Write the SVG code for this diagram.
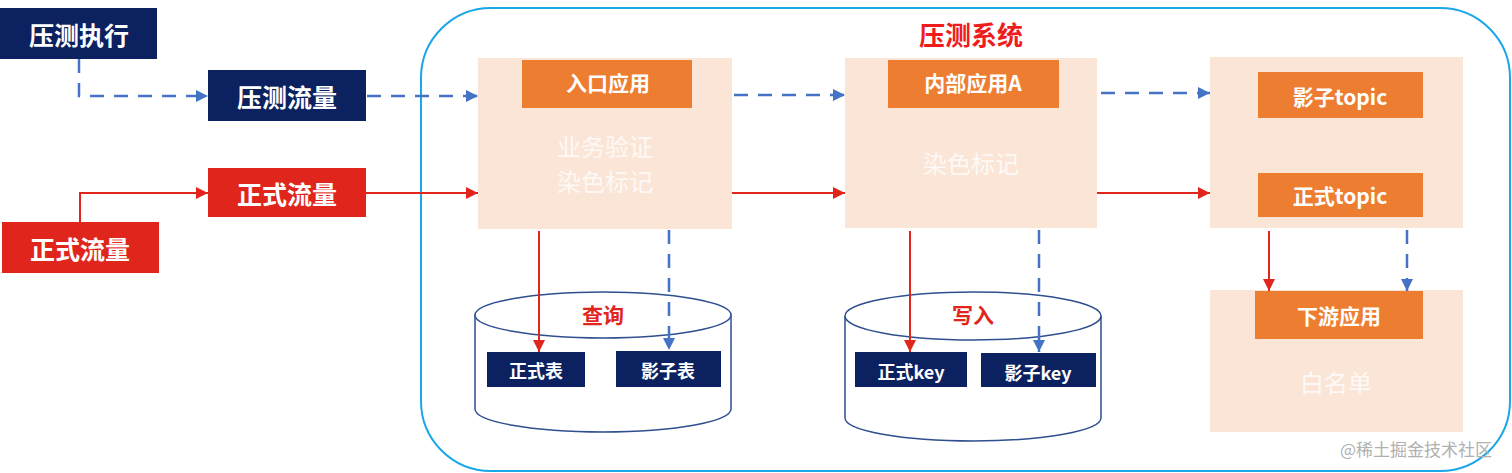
<svg xmlns="http://www.w3.org/2000/svg" width="1512" height="473" viewBox="0 0 1512 473">
<defs>
<style>
text{font-family:"Noto Sans CJK SC","Noto Sans",sans-serif;text-anchor:middle;dominant-baseline:central}
.navy{fill:#0b2160}
.red{fill:#e0261c}
.peach{fill:#fbe5d6}
.orange{fill:#ed7d31}
.wt{fill:#ffffff;font-weight:bold}
.big{font-size:25px}
.mid{font-size:21px}
.sm{font-size:18px}
.faint{fill:#ffffff;font-size:24px;opacity:0.8}
.cyl{fill:#ffffff;stroke:#2f4f8f;stroke-width:1.5}
.bl{stroke:#4472c4;stroke-width:2.5;fill:none;stroke-dasharray:14 10}
.rl{stroke:#e0261c;stroke-width:2;fill:none}
</style>
<marker id="ab" viewBox="0 0 10 10" refX="10" refY="5" markerWidth="5" markerHeight="5" orient="auto" markerUnits="strokeWidth"><path d="M0,0 L10,5 L0,10 z" fill="#4472c4"/></marker>
<marker id="ar" viewBox="0 0 10 10" refX="10" refY="5" markerWidth="6" markerHeight="6" orient="auto" markerUnits="strokeWidth"><path d="M0,0 L10,5 L0,10 z" fill="#e0261c"/></marker>
</defs>
<rect width="1512" height="473" fill="#ffffff"/>
<g id="system">
<rect x="421" y="8" width="1089" height="463" rx="70" ry="70" fill="none" stroke="#1aa7e8" stroke-width="2"/>
<text x="971" y="33" font-size="26" font-weight="bold" fill="#ee1c1c">压测系统</text>
</g>
<g id="exec"><rect class="navy" x="0" y="8" width="157" height="51"/><text class="wt big" x="79" y="34">压测执行</text></g>
<g id="pressflow"><rect class="navy" x="208" y="70" width="158" height="51"/><text class="wt big" x="287" y="96">压测流量</text></g>
<g id="realflow"><rect class="red" x="208" y="168" width="158" height="49"/><text class="wt big" x="287" y="193">正式流量</text></g>
<g id="realsrc"><rect class="red" x="2" y="222" width="157" height="51"/><text class="wt big" x="80" y="248">正式流量</text></g>
<g id="entry">
<rect class="peach" x="478" y="58" width="254" height="171"/>
<rect class="orange" x="522" y="60" width="170" height="48"/>
<text class="wt mid" x="608" y="82">入口应用</text>
<text class="faint" x="605" y="145">业务验证</text>
<text class="faint" x="605" y="180">染色标记</text>
</g>
<g id="inner">
<rect class="peach" x="845" y="58" width="252" height="170"/>
<rect class="orange" x="888" y="60" width="171" height="48"/>
<text class="wt mid" x="973" y="82">内部应用A</text>
<text class="faint" x="971" y="162">染色标记</text>
</g>
<g id="topics">
<rect class="peach" x="1210" y="57" width="253" height="171"/>
<rect class="orange" x="1258" y="72" width="165" height="46"/>
<text class="wt mid" x="1340" y="96">影子topic</text>
<rect class="orange" x="1258" y="173" width="165" height="44"/>
<text class="wt mid" x="1340" y="195">正式topic</text>
</g>
<g id="downstream">
<rect class="peach" x="1210" y="290" width="253" height="142"/>
<rect class="orange" x="1255" y="291" width="168" height="48"/>
<text class="wt mid" x="1339" y="315">下游应用</text>
<text class="faint" x="1336" y="381">白名单</text>
</g>
<g id="db1">
<path class="cyl" d="M475,315 L475,409 A128,23 0 0 0 731,409 L731,315"/>
<ellipse class="cyl" cx="603" cy="315" rx="128" ry="23"/>
<text x="603" y="314" font-size="21" font-weight="bold" fill="#e0261c">查询</text>
<rect class="navy" x="487" y="352" width="98" height="35"/>
<text class="wt sm" x="536" y="370">正式表</text>
<rect class="navy" x="616" y="351" width="105" height="36"/>
<text class="wt sm" x="668" y="370">影子表</text>
</g>
<g id="db2">
<path class="cyl" d="M845,316 L845,418 A128,23 0 0 0 1101,418 L1101,316"/>
<ellipse class="cyl" cx="973" cy="316" rx="128" ry="24"/>
<text x="973" y="314" font-size="21" font-weight="bold" fill="#e0261c">写入</text>
<rect class="navy" x="855" y="352" width="112" height="35"/>
<text class="wt sm" x="911" y="371">正式key</text>
<rect class="navy" x="981" y="353" width="115" height="34"/>
<text class="wt sm" x="1038" y="372">影子key</text>
</g>
<g id="connectors">
<path class="bl" d="M79,59 L79,96 L208,96" marker-end="url(#ab)"/>
<path class="bl" d="M367,96 L478,96" marker-end="url(#ab)"/>
<path class="rl" d="M80,222 L80,193 L208,193" marker-end="url(#ar)"/>
<path class="rl" d="M366,193 L478,193" marker-end="url(#ar)"/>
<path class="bl" d="M734,95 L845,95" marker-end="url(#ab)"/>
<path class="rl" d="M732,193 L845,193" marker-end="url(#ar)"/>
<path class="bl" d="M1101,93 L1210,93" marker-end="url(#ab)"/>
<path class="rl" d="M1097,193 L1210,193" marker-end="url(#ar)"/>
<path class="rl" d="M539,231 L539,352" marker-end="url(#ar)"/>
<path class="bl" d="M669,230 L669,350" marker-end="url(#ab)"/>
<path class="rl" d="M910,231 L910,352" marker-end="url(#ar)"/>
<path class="bl" d="M1039,230 L1039,352" marker-end="url(#ab)"/>
<path class="rl" d="M1269,231 L1269,291" marker-end="url(#ar)"/>
<path class="bl" d="M1407,230 L1407,291" marker-end="url(#ab)"/>
</g>
<text x="1416" y="448" font-size="17" fill="#b0b0b0">@稀土掘金技术社区</text>
</svg>
